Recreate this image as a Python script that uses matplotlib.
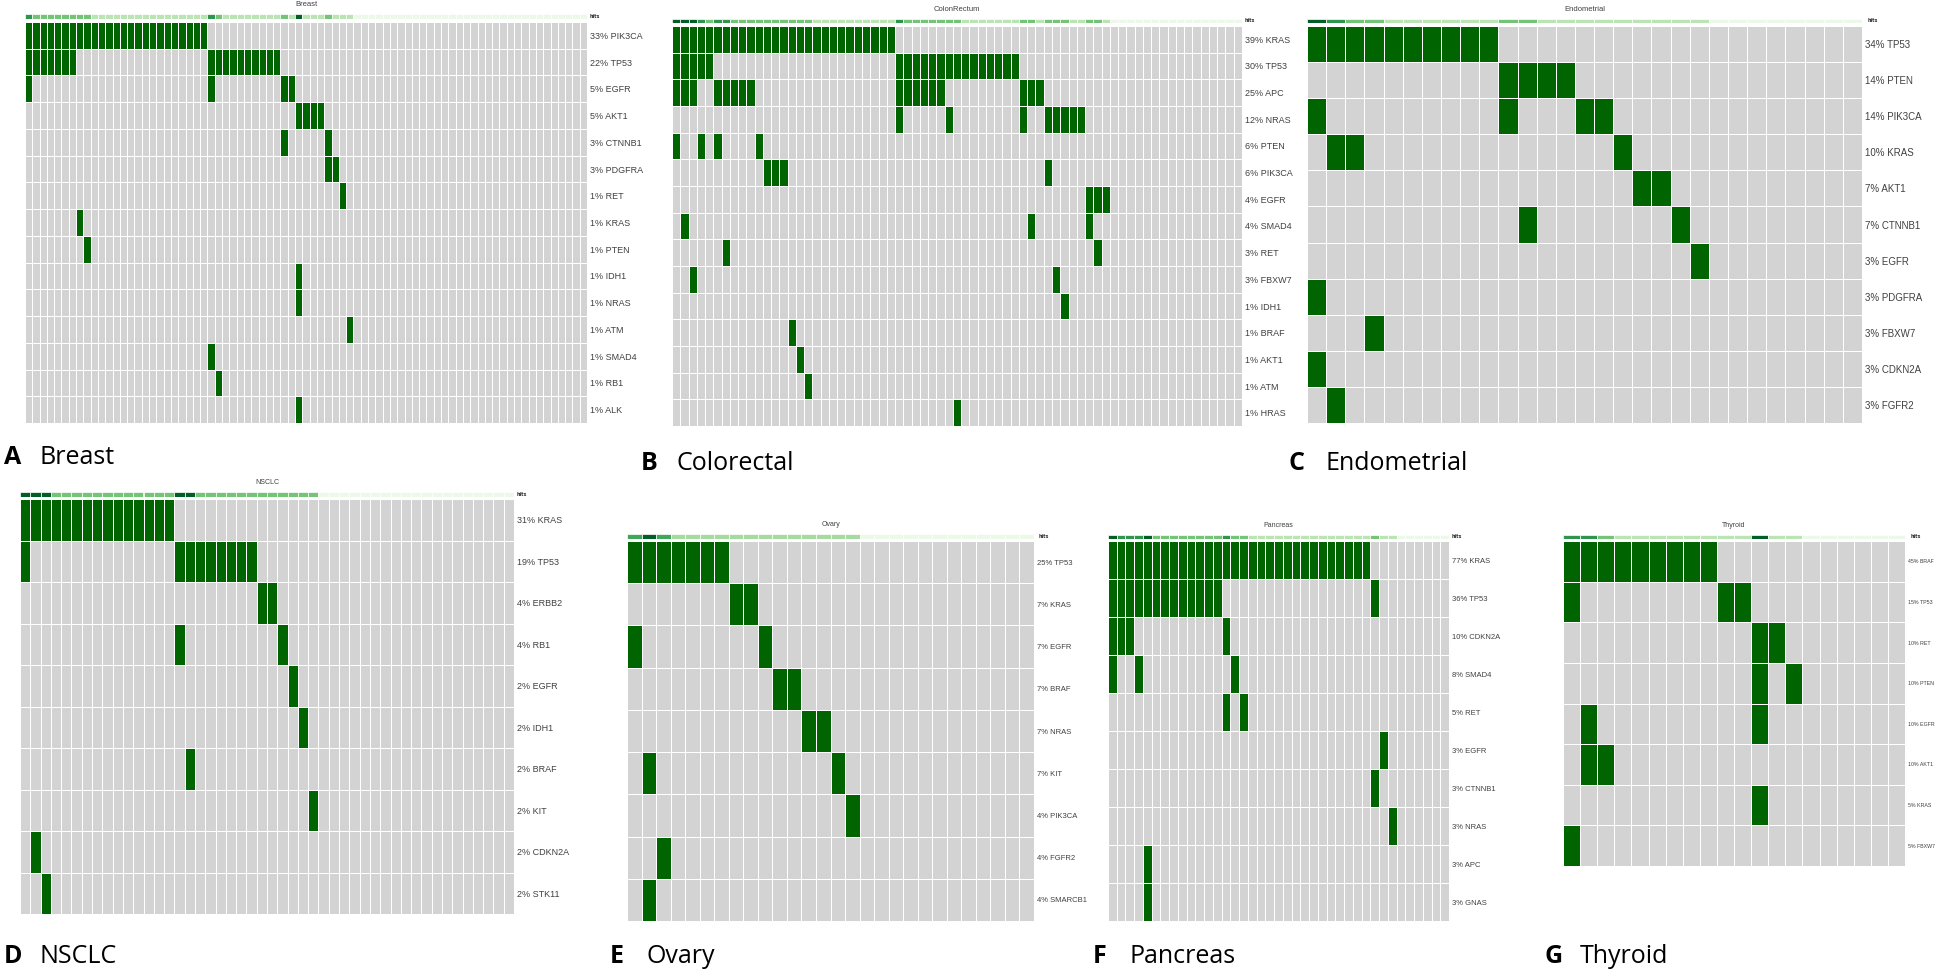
import numpy as np
import matplotlib
matplotlib.use("Agg")
import matplotlib.pyplot as plt
from matplotlib.colors import ListedColormap

# ---- data: genes, % altered, and hit columns as (first, last) sample spans ----
breast_n = 77
breast_genes = ["PIK3CA", "TP53", "EGFR", "AKT1", "CTNNB1", "PDGFRA", "RET", "KRAS",
                "PTEN", "IDH1", "NRAS", "ATM", "SMAD4", "RB1", "ALK"]
breast_pct = [33, 22, 5, 5, 3, 3, 1, 1, 1, 1, 1, 1, 1, 1, 1]
breast_spans = [[(0, 24)], [(0, 6), (25, 34)], [(0, 0), (25, 25), (35, 36)], [(37, 40)],
                [(35, 35), (41, 41)], [(41, 42)], [(43, 43)], [(7, 7)], [(8, 8)],
                [(37, 37)], [(37, 37)], [(44, 44)], [(25, 25)], [(26, 26)], [(37, 37)]]

colon_n = 69
colon_genes = ["KRAS", "TP53", "APC", "NRAS", "PTEN", "PIK3CA", "EGFR", "SMAD4", "RET",
               "FBXW7", "IDH1", "BRAF", "AKT1", "ATM", "HRAS"]
colon_pct = [39, 30, 25, 12, 6, 6, 4, 4, 3, 3, 1, 1, 1, 1, 1]
colon_spans = [[(0, 26)], [(0, 4), (27, 41)], [(0, 2), (5, 9), (27, 32), (42, 44)],
               [(27, 27), (33, 33), (42, 42), (45, 49)], [(0, 0), (3, 3), (5, 5), (10, 10)],
               [(11, 13), (45, 45)], [(50, 52)], [(1, 1), (43, 43), (50, 50)],
               [(6, 6), (51, 51)], [(2, 2), (46, 46)], [(47, 47)], [(14, 14)], [(15, 15)],
               [(16, 16)], [(34, 34)]]

endo_n = 29
endo_genes = ["TP53", "PTEN", "PIK3CA", "KRAS", "AKT1", "CTNNB1", "EGFR", "PDGFRA",
              "FBXW7", "CDKN2A", "FGFR2"]
endo_pct = [34, 14, 14, 10, 7, 7, 3, 3, 3, 3, 3]
endo_spans = [[(0, 9)], [(10, 13)], [(0, 0), (10, 10), (14, 15)], [(1, 2), (16, 16)],
              [(17, 18)], [(11, 11), (19, 19)], [(20, 20)], [(0, 0)], [(3, 3)], [(0, 0)],
              [(1, 1)]]

nsclc_n = 48
nsclc_genes = ["KRAS", "TP53", "ERBB2", "RB1", "EGFR", "IDH1", "BRAF", "KIT", "CDKN2A", "STK11"]
nsclc_pct = [31, 19, 4, 4, 2, 2, 2, 2, 2, 2]
nsclc_spans = [[(0, 14)], [(0, 0), (15, 22)], [(23, 24)], [(15, 15), (25, 25)], [(26, 26)],
               [(27, 27)], [(16, 16)], [(28, 28)], [(1, 1)], [(2, 2)]]

ovary_n = 28
ovary_genes = ["TP53", "KRAS", "EGFR", "BRAF", "NRAS", "KIT", "PIK3CA", "FGFR2", "SMARCB1"]
ovary_pct = [25, 7, 7, 7, 7, 7, 4, 4, 4]
ovary_spans = [[(0, 6)], [(7, 8)], [(0, 0), (9, 9)], [(10, 11)], [(12, 13)],
               [(1, 1), (14, 14)], [(15, 15)], [(2, 2)], [(1, 1)]]

panc_n = 39
panc_genes = ["KRAS", "TP53", "CDKN2A", "SMAD4", "RET", "EGFR", "CTNNB1", "NRAS", "APC", "GNAS"]
panc_pct = [77, 36, 10, 8, 5, 3, 3, 3, 3, 3]
panc_spans = [[(0, 29)], [(0, 12), (30, 30)], [(0, 2), (13, 13)], [(0, 0), (3, 3), (14, 14)],
              [(13, 13), (15, 15)], [(31, 31)], [(30, 30)], [(32, 32)], [(4, 4)], [(4, 4)]]

thyroid_n = 20
thyroid_genes = ["BRAF", "TP53", "RET", "PTEN", "EGFR", "AKT1", "KRAS", "FBXW7"]
thyroid_pct = [45, 15, 10, 10, 10, 10, 5, 5]
thyroid_spans = [[(0, 8)], [(0, 0), (9, 10)], [(11, 12)], [(11, 11), (13, 13)],
                 [(1, 1), (11, 11)], [(1, 2)], [(11, 11)], [(0, 0)]]

W, H = 1943, 971
fig = plt.figure(figsize=(W / 100, H / 100), dpi=100)
fig.patch.set_facecolor("white")

cell_cmap = ListedColormap(["#d3d3d3", "#006400"])


def px_axes(x0, y0, x1, y1):
    return fig.add_axes([x0 / W, 1 - y1 / H, (x1 - x0) / W, (y1 - y0) / H])


def oncoprint(grid, bar, title, n, genes, pct, spans, lab_fs, title_fs):
    x0, y0, x1, y1 = grid
    mat = np.zeros((len(genes), n))
    for i, row in enumerate(spans):
        for a, b in row:
            mat[i, a:b + 1] = 1

    ax = px_axes(x0, y0, x1, y1)
    ax.pcolormesh(mat, cmap=cell_cmap, vmin=0, vmax=1, edgecolors="white", linewidth=0.6)
    ax.set_xlim(0, n)
    ax.set_ylim(len(genes), 0)
    ax.set_xticks([])
    ax.set_yticks(np.arange(len(genes)) + 0.5)
    ax.set_yticklabels([f"{p}% {g}" for p, g in zip(pct, genes)],
                       fontsize=lab_fs, color="#404040", family="Liberation Sans")
    ax.yaxis.tick_right()
    ax.tick_params(length=0, pad=2)
    for s in ax.spines.values():
        s.set_visible(False)

    # hits bar on top, darker where more genes are hit
    counts = mat.sum(axis=0)
    bx = px_axes(x0, bar[0], x1, bar[1])
    colors = plt.cm.Greens(0.08 + 0.84 * counts / counts.max())
    bx.bar(np.arange(n), np.ones(n), width=1, align="edge", color=colors,
           edgecolor="white", linewidth=0.5)
    bx.set_xlim(0, n)
    bx.set_ylim(0, 1)
    bx.axis("off")
    bx.text(n + 0.3, 0.5, "hits", fontsize=3.5, fontweight="bold", color="#333333",
            ha="left", va="center", transform=bx.transData)
    fig.text((x0 + x1) / 2 / W, 1 - (bar[0] - 6) / H, title, fontsize=title_fs,
             color="#404040", ha="center", va="bottom", family="Liberation Sans")


oncoprint((25, 22, 587, 423), (14, 19), "Breast", breast_n, breast_genes, breast_pct,
          breast_spans, 6.5, 5.5)
oncoprint((672, 26, 1242, 426), (19, 23), "ColonRectum", colon_n, colon_genes, colon_pct,
          colon_spans, 6.5, 5.5)
oncoprint((1307, 26, 1862, 423), (19, 23), "Endometrial", endo_n, endo_genes, endo_pct,
          endo_spans, 7.0, 5.5)
oncoprint((20, 499, 514, 914), (492, 497), "NSCLC", nsclc_n, nsclc_genes, nsclc_pct,
          nsclc_spans, 6.5, 5.0)
oncoprint((627, 541, 1034, 921), (534, 539), "Ovary", ovary_n, ovary_genes, ovary_pct,
          ovary_spans, 5.5, 5.0)
oncoprint((1108, 541, 1449, 921), (535, 539), "Pancreas", panc_n, panc_genes, panc_pct,
          panc_spans, 5.5, 5.0)
oncoprint((1563, 541, 1905, 866), (535, 539), "Thyroid", thyroid_n, thyroid_genes, thyroid_pct,
          thyroid_spans, 3.8, 5.0)

# panel letters and names
panel_labels = [("A", "Breast", 4, 457), ("B", "Colorectal", 641, 464),
                ("C", "Endometrial", 1289, 464), ("D", "NSCLC", 4, 956),
                ("E", "Ovary", 610, 956), ("F", "Pancreas", 1093, 956),
                ("G", "Thyroid", 1544, 956)]
for letter, name, x, y in panel_labels:
    fig.text(x / W, 1 - y / H, letter, fontsize=18, fontweight="bold", family="Open Sans",
             ha="left", va="center", color="black")
    fig.text((x + 36) / W, 1 - y / H, name, fontsize=18, family="Open Sans",
             ha="left", va="center", color="black")

fig.savefig("out.png", dpi=100, facecolor="white")
